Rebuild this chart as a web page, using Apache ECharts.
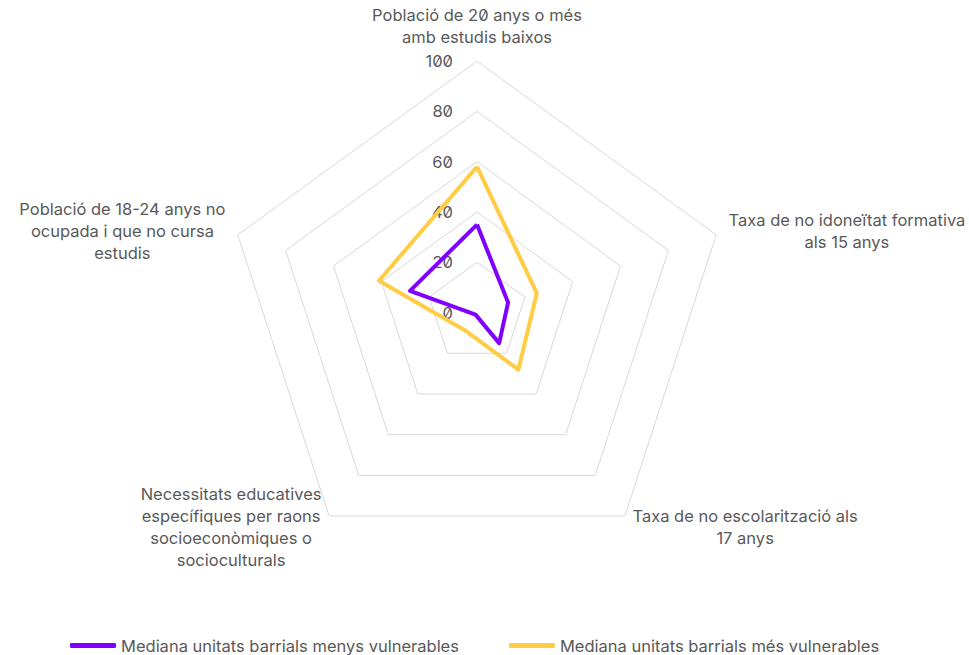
<!DOCTYPE html>
<html>
<head>
<meta charset="utf-8">
<script src="https://cdn.jsdelivr.net/npm/echarts@6/dist/echarts.min.js"></script>
<style>
  html, body { margin: 0; padding: 0; background: #fff; }
  #chart { width: 969px; height: 655px; }
  #chart text { font-feature-settings: "zero" 1; }
</style>
</head>
<body>
<div id="chart"></div>
<script>
// indicadors (ordre antihorari, com els col·loca ECharts)
var indicatorNames = [
    'Població de 20 anys o més\namb estudis baixos',
    'Població de 18-24 anys no\nocupada i que no cursa\nestudis',
    'Necessitats educatives\nespecífiques per raons\nsocioeconòmiques o\nsocioculturals',
    'Taxa de no escolarització als\n17 anys',
    'Taxa de no idoneïtat formativa\nals 15 anys'
];
var seriesNames = ['Mediana unitats barrials menys vulnerables', 'Mediana unitats barrials més vulnerables'];
var menysVulnerables = [35, 28, 1, 15, 13];
var mesVulnerables = [58, 41, 8.5, 28, 25];
var tickLabels = ['0', '20', '40', '60', '80', '100'];

var myChart = echarts.init(document.getElementById('chart'), null, {renderer: 'svg'});

var fontFamily = 'Inter, "Noto Sans", sans-serif';
var fontSize = 16.5;

var option = {
    color: ['#7f00ff', '#ffcc44'],
    legend: {
        bottom: -4,
        left: 65,
        itemWidth: 46,
        itemHeight: 5,
        itemGap: 50,
        icon: 'roundRect',
        data: seriesNames,
        textStyle: { color: '#595959', fontSize: fontSize, fontFamily: fontFamily }
    },
    radar: {
        center: [477, 312.6],
        radius: 251.5,
        splitNumber: 5,
        nameGap: 13,
        axisName: {
            color: '#595959',
            fontSize: fontSize,
            fontFamily: fontFamily,
            formatter: function (txt) {
                return txt.split('\n').map(function (l) { return '{c|' + l + '}'; }).join('\n');
            },
            rich: {
                c: { align: 'center', color: '#595959', fontSize: fontSize, lineHeight: 22, fontFamily: fontFamily }
            }
        },
        axisLine: { show: false },
        axisTick: { show: false },
        splitArea: { show: false },
        splitLine: { lineStyle: { color: '#d9d9d9', width: 1 } },
        axisLabel: {
            show: true,
            color: '#595959',
            fontSize: fontSize,
            fontFamily: fontFamily,
            margin: 24,
            formatter: function (v) { return tickLabels[Math.round(v / 20)]; }
        },
        indicator: indicatorNames.map(function (n, i) {
            var ind = { name: n, min: 0, max: 100 };
            if (i > 0) ind.axisLabel = { show: false };
            return ind;
        })
    },
    series: [{
        type: 'radar',
        symbol: 'none',
        lineStyle: { width: 4 },
        data: [
            { name: seriesNames[0], value: menysVulnerables, lineStyle: { color: '#7f00ff', width: 4 }, itemStyle: { color: '#7f00ff' } },
            { name: seriesNames[1], value: mesVulnerables, lineStyle: { color: '#ffcc44', width: 4 }, itemStyle: { color: '#ffcc44' } }
        ]
    }]
};

myChart.setOption(option);
</script>
</body>
</html>
